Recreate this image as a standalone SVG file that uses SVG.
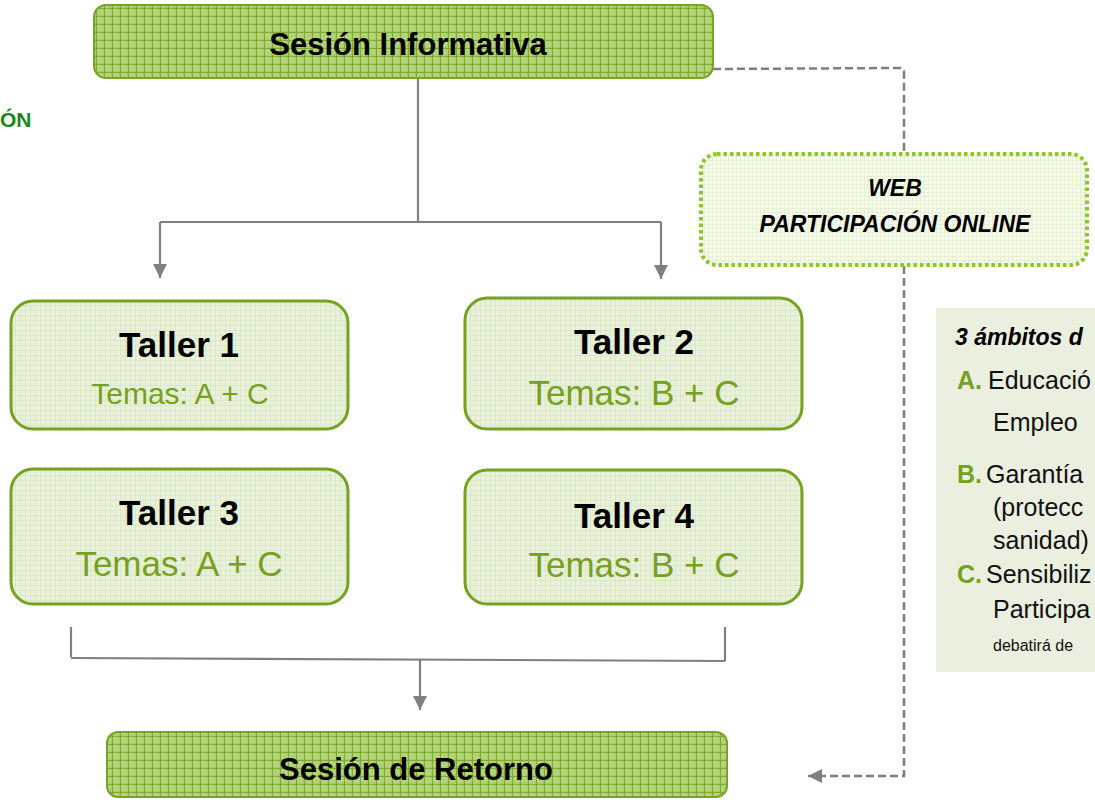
<svg xmlns="http://www.w3.org/2000/svg" width="1095" height="802" viewBox="0 0 1095 802">
<defs>
<pattern id="pDark" width="8" height="8" patternUnits="userSpaceOnUse">
<rect width="8" height="8" fill="#a9cc68"/>
<circle cx="4" cy="4" r="2.2" fill="none" stroke="#c7df98" stroke-width="1"/>
<path d="M0 0.5H8M0.5 0V8" stroke="#7fab33" stroke-width="1"/>
</pattern>
<pattern id="pLight" width="5" height="5" patternUnits="userSpaceOnUse">
<rect width="5" height="5" fill="#e9f1dc"/>
<path d="M0 0.5H5M0.5 0V5" stroke="#dbe8c4" stroke-width="1"/>
</pattern>
<pattern id="pWeb" width="4" height="4" patternUnits="userSpaceOnUse">
<rect width="4" height="4" fill="#f7fbef"/>
<path d="M0 0.5H4M0.5 0V4" stroke="#e6f0d2" stroke-width="1"/>
</pattern>
<marker id="arr" markerUnits="userSpaceOnUse" markerWidth="14" markerHeight="16" refX="14" refY="7" orient="auto">
<path d="M0 0L14 7L0 14Z" fill="#808080"/>
</marker>
</defs>
<style>
.sess{fill:url(#pDark);stroke:#78a424;stroke-width:2}
.tall{fill:url(#pLight);stroke:#77a221;stroke-width:3}
.line{fill:none;stroke:#808080;stroke-width:2.2}
.dash{fill:none;stroke:#808080;stroke-width:2.5;stroke-dasharray:8 4}
.t{font-family:"Liberation Sans",Arial,sans-serif}
.hb{font-weight:bold;fill:#000;text-anchor:middle}
.tm{fill:#76a021;text-anchor:middle}
.pt{font-size:25px;fill:#111}
.gl{font-weight:bold;fill:#76a021}
</style>

<text class="t" x="0" y="127" font-size="21" font-weight="bold" fill="#17891a">ÓN</text>

<g id="connectors">
<path class="line" d="M418 78V222"/>
<path class="line" d="M160 222H661"/>
<path class="line" d="M160 222V278" marker-end="url(#arr)"/>
<path class="line" d="M661 222V279" marker-end="url(#arr)"/>
<path class="line" d="M71 627V657"/>
<path class="line" d="M725 627V661"/>
<path class="line" d="M71 658L725 661"/>
<path class="line" d="M420 659V710" marker-end="url(#arr)"/>
<path class="dash" d="M713 69L900 68Q904 68 904 72V153"/>
<path class="dash" d="M904 266V776H808" marker-end="url(#arr)"/>
</g>

<g id="sesion-informativa">
<rect class="sess" x="94" y="5" width="619" height="73" rx="12"/>
<text class="t hb" x="408" y="55" font-size="31">Sesión Informativa</text>
</g>

<g id="web">
<rect x="701" y="154" width="386" height="111" rx="16" fill="url(#pWeb)" stroke="#8cc823" stroke-width="4" stroke-dasharray="3.5 3"/>
<text class="t" x="895" y="196" font-size="23" font-weight="bold" font-style="italic" text-anchor="middle">WEB</text>
<text class="t" x="895" y="232" font-size="23" font-weight="bold" font-style="italic" text-anchor="middle">PARTICIPACIÓN ONLINE</text>
</g>

<g id="taller1">
<rect class="tall" x="11" y="301" width="337" height="128" rx="22"/>
<text class="t hb" x="179" y="357" font-size="35">Taller 1</text>
<text class="t tm" x="180" y="404" font-size="30">Temas: A + C</text>
</g>

<g id="taller2">
<rect class="tall" x="465" y="298" width="337" height="131" rx="22"/>
<text class="t hb" x="634" y="354" font-size="35">Taller 2</text>
<text class="t tm" x="634" y="405" font-size="35">Temas: B + C</text>
</g>

<g id="taller3">
<rect class="tall" x="11" y="469" width="337" height="135" rx="22"/>
<text class="t hb" x="179" y="525" font-size="35">Taller 3</text>
<text class="t tm" x="179" y="576" font-size="35">Temas: A + C</text>
</g>

<g id="taller4">
<rect class="tall" x="465" y="470" width="337" height="134" rx="22"/>
<text class="t hb" x="634" y="528" font-size="35">Taller 4</text>
<text class="t tm" x="634" y="577" font-size="35">Temas: B + C</text>
</g>

<g id="sesion-retorno">
<rect class="sess" x="107" y="732" width="620" height="65" rx="11"/>
<text class="t hb" x="416" y="780" font-size="31">Sesión de Retorno</text>
</g>

<g id="ambitos">
<rect x="936" y="308" width="170" height="364" fill="#ebefdf"/>
<text class="t" x="955" y="345" font-size="23" font-weight="bold" font-style="italic" fill="#000">3 ámbitos d</text>
<text class="t pt" x="957" y="389"><tspan class="gl">A.</tspan></text>
<text class="t pt" x="988" y="389">Educació</text>
<text class="t pt" x="993" y="431">Empleo</text>
<text class="t pt" x="957" y="483"><tspan class="gl">B.</tspan></text>
<text class="t pt" x="986" y="483">Garantía</text>
<text class="t pt" x="993" y="516">(protecc</text>
<text class="t pt" x="993" y="549">sanidad)</text>
<text class="t pt" x="957" y="583"><tspan class="gl">C.</tspan></text>
<text class="t pt" x="986" y="583">Sensibiliz</text>
<text class="t pt" x="993" y="618">Participa</text>
<text class="t" x="993" y="651" font-size="16" fill="#111">debatirá de</text>
</g>
</svg>
